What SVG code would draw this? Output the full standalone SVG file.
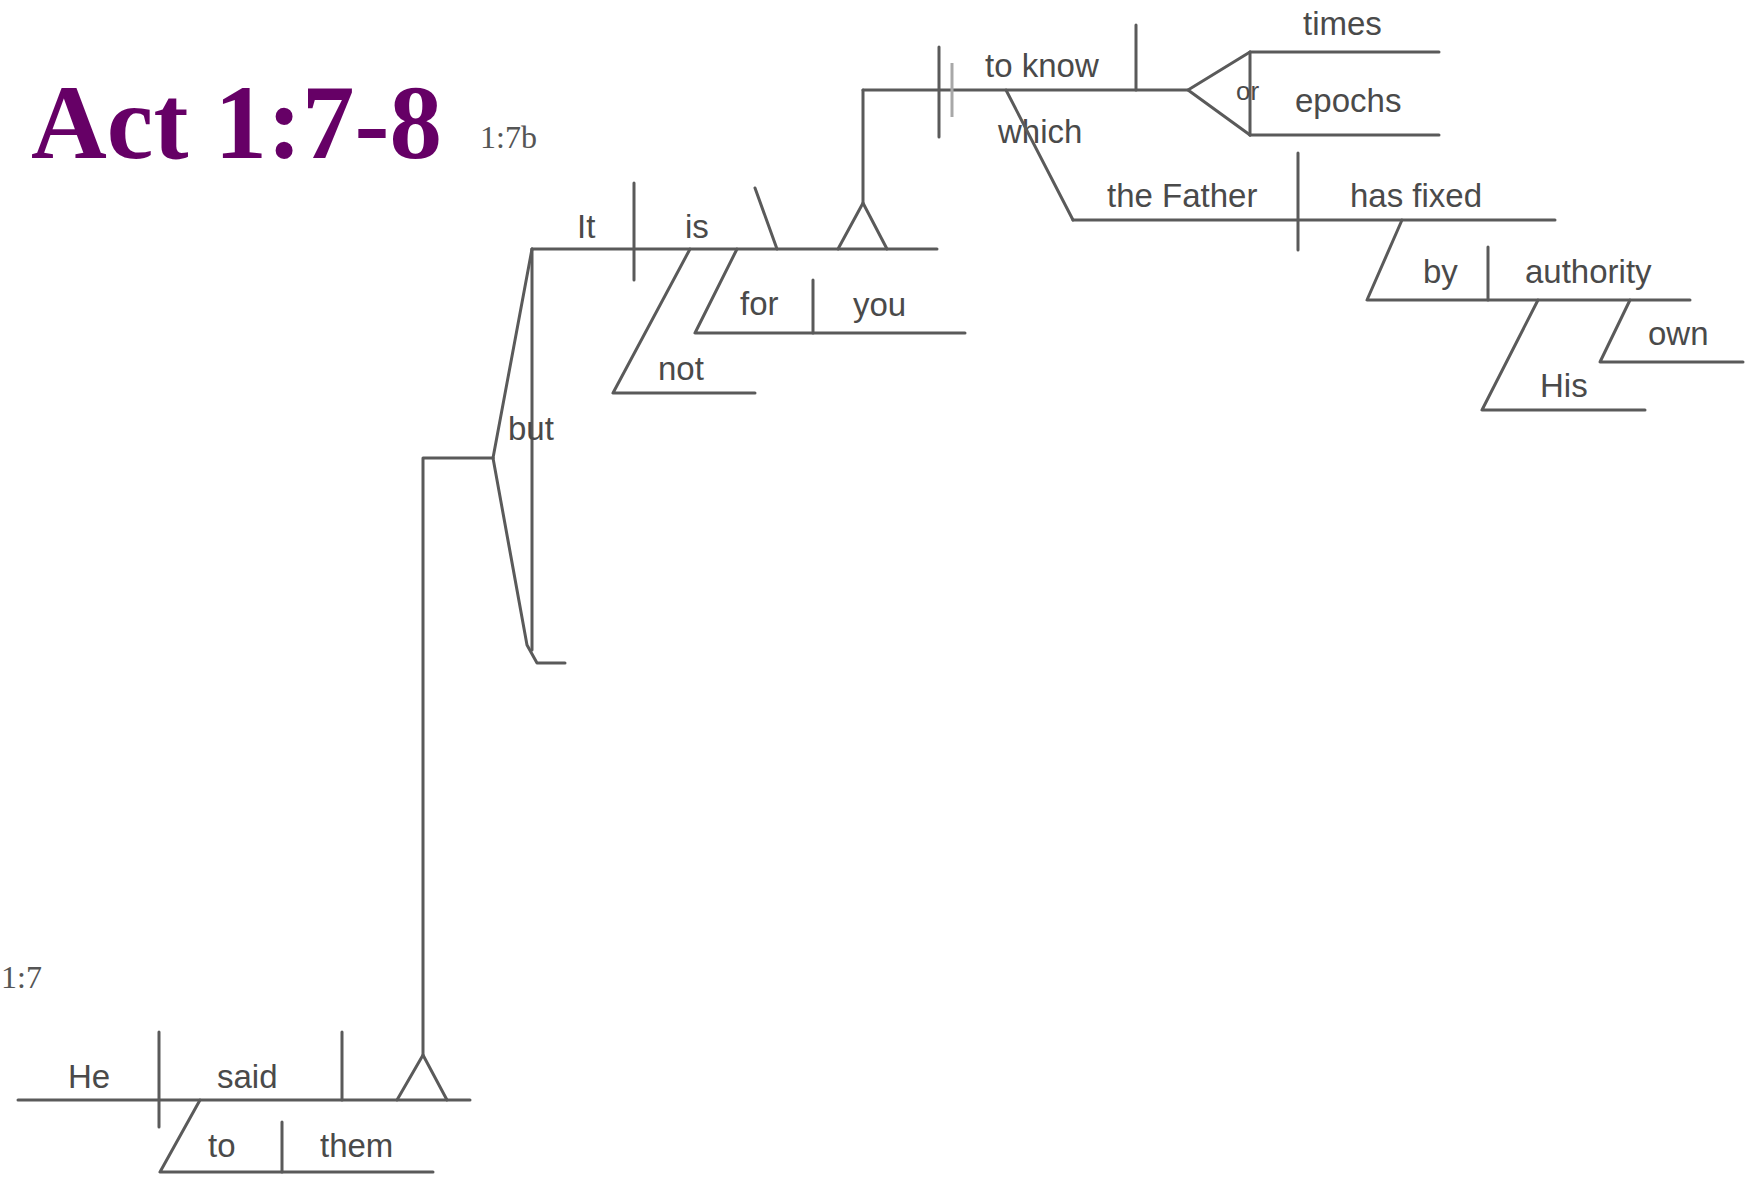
<svg xmlns="http://www.w3.org/2000/svg" width="1749" height="1182" viewBox="0 0 1749 1182">
<style>
.ln{stroke:#5a5a5a;stroke-width:3;fill:none;stroke-linecap:round;stroke-linejoin:round}
.lt{stroke:#a8a8a8;stroke-width:3;fill:none}
.w{font-family:"Liberation Sans",Arial,sans-serif;font-size:33px;fill:#4a4a4a}
.sm{font-family:"Liberation Sans",Arial,sans-serif;font-size:26px;fill:#4a4a4a}
.ref{font-family:"Liberation Serif","Times New Roman",serif;font-size:32px;fill:#555}
.title{font-family:"Liberation Serif","Times New Roman",serif;font-weight:bold;font-size:106px;fill:#660066}
</style>
<rect width="1749" height="1182" fill="#fff"/>

<g id="title"><text class="title" x="31" y="158" textLength="411" lengthAdjust="spacingAndGlyphs">Act 1:7-8</text></g>
<g id="ref-17b"><text class="ref" x="480" y="148">1:7b</text></g>
<g id="ref-17"><text class="ref" x="1" y="988">1:7</text></g>

<g id="clause-he-said">
<line class="ln" x1="18" y1="1100" x2="470" y2="1100"/>
<line class="ln" x1="159" y1="1032" x2="159" y2="1127"/>
<line class="ln" x1="342" y1="1032" x2="342" y2="1100"/>
<text class="w" x="68" y="1088">He</text>
<text class="w" x="217" y="1088">said</text>
</g>

<g id="phrase-to-them">
<polyline class="ln" points="200,1100 160,1172 433,1172"/>
<line class="ln" x1="282" y1="1122" x2="282" y2="1172"/>
<text class="w" x="208" y="1157">to</text>
<text class="w" x="320" y="1157">them</text>
</g>

<g id="conj-but">
<line class="ln" x1="532" y1="249" x2="532" y2="650"/>
<text class="w" x="508" y="440">but</text>
</g>

<g id="clause-it-is">
<line class="ln" x1="532" y1="249" x2="937" y2="249"/>
<line class="ln" x1="634" y1="183" x2="634" y2="280"/>
<line class="ln" x1="755" y1="188" x2="777" y2="249"/>
<text class="w" x="577" y="238">It</text>
<text class="w" x="685" y="238">is</text>
</g>

<g id="mod-not">
<polyline class="ln" points="690,249 613,393 755,393"/>
<text class="w" x="658" y="380">not</text>
</g>

<g id="phrase-for-you">
<polyline class="ln" points="737,249 695,333 965,333"/>
<line class="ln" x1="813" y1="280" x2="813" y2="333"/>
<text class="w" x="740" y="315">for</text>
<text class="w" x="853" y="316">you</text>
</g>

<g id="inf-to-know">
<line class="ln" x1="863" y1="90" x2="1188" y2="90"/>
<line class="ln" x1="939" y1="47" x2="939" y2="137"/>
<line class="lt" x1="952" y1="63" x2="952" y2="117"/>
<line class="ln" x1="1136" y1="25" x2="1136" y2="90"/>
<text class="w" x="985" y="77">to know</text>
</g>

<g id="obj-times">
<line class="ln" x1="1250" y1="52" x2="1439" y2="52"/>
<text class="w" x="1303" y="35">times</text>
</g>
<g id="obj-epochs">
<line class="ln" x1="1250" y1="135" x2="1439" y2="135"/>
<text class="w" x="1295" y="112">epochs</text>
</g>
<g id="conj-or">
<line class="ln" x1="1250" y1="52" x2="1250" y2="135"/>
<text class="sm" x="1236" y="100">or</text>
</g>

<g id="clause-which">
<line class="ln" x1="1073" y1="220" x2="1555" y2="220"/>
<line class="ln" x1="1298" y1="153" x2="1298" y2="250"/>
<text class="w" x="998" y="143">which</text>
<text class="w" x="1107" y="207">the Father</text>
<text class="w" x="1350" y="207">has fixed</text>
</g>

<g id="phrase-by-authority">
<polyline class="ln" points="1402,220 1367,300 1690,300"/>
<line class="ln" x1="1488" y1="247" x2="1488" y2="300"/>
<text class="w" x="1423" y="283">by</text>
<text class="w" x="1525" y="283">authority</text>
</g>

<g id="mod-his">
<polyline class="ln" points="1538,300 1482,410 1645,410"/>
<text class="w" x="1540" y="397">His</text>
</g>

<g id="mod-own">
<polyline class="ln" points="1630,300 1600,362 1743,362"/>
<text class="w" x="1648" y="345">own</text>
</g>

<g id="connectors">
<polyline class="ln" points="397,1100 423,1055 447,1100"/>
<polyline class="ln" points="423,1055 423,458 493,458"/>
<line class="ln" x1="493" y1="458" x2="532" y2="249"/>
<polyline class="ln" points="493,458 527,645 537,663 565,663"/>
<polyline class="ln" points="838,249 863,203 887,249"/>
<polyline class="ln" points="863,203 863,90"/>
<polyline class="ln" points="1250,52 1188,90 1250,135"/>
<line class="ln" x1="1006" y1="90" x2="1073" y2="220"/>
</g>
</svg>
